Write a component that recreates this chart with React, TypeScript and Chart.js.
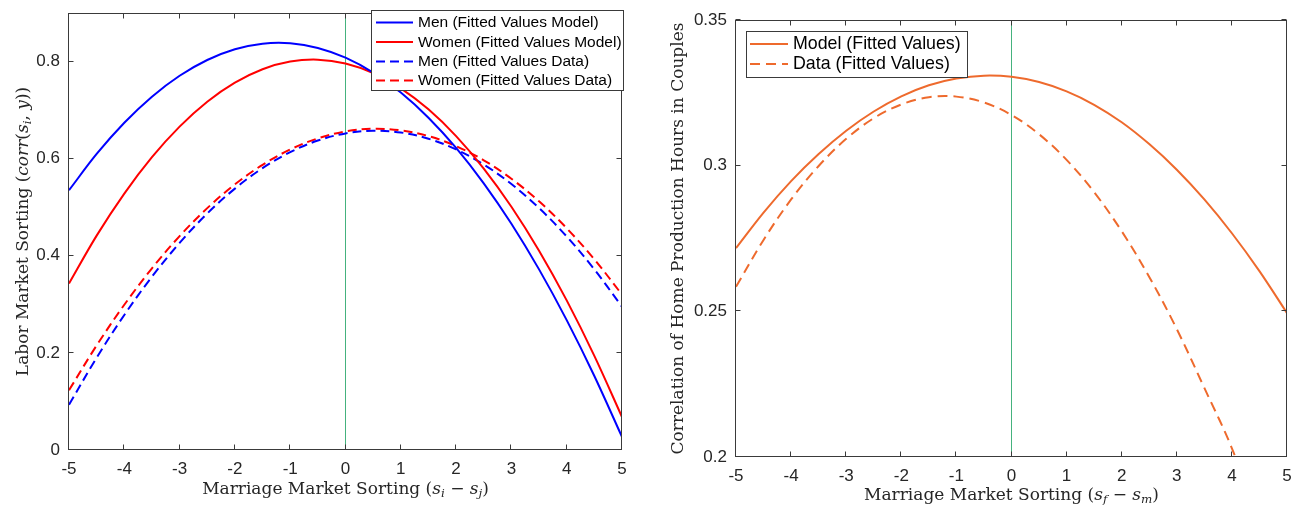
import React, { useEffect, useRef } from 'react';
import Chart from 'chart.js/auto';

// ---------- data ----------
const xValues = [-5, -4.5, -4, -3.5, -3, -2.5, -2, -1.5, -1, -0.5, 0, 0.5, 1, 1.5, 2, 2.5, 3, 3.5, 4, 4.5, 5];

const menModel = [0.535, 0.6097, 0.6739, 0.7276, 0.7707, 0.8032, 0.8253, 0.8368, 0.8377, 0.8281, 0.808, 0.7773, 0.7361, 0.6844, 0.6221, 0.5492, 0.4659, 0.372, 0.2675, 0.1525, 0.027];
const womenModel = [0.343, 0.4415, 0.5281, 0.603, 0.6659, 0.7172, 0.7565, 0.7842, 0.7999, 0.8039, 0.796, 0.7763, 0.7449, 0.7016, 0.6465, 0.5796, 0.5009, 0.4104, 0.3081, 0.1939, 0.068];
const menData = [0.093, 0.1901, 0.2781, 0.3569, 0.4265, 0.487, 0.5383, 0.5805, 0.6135, 0.6373, 0.652, 0.6575, 0.6539, 0.6411, 0.6191, 0.588, 0.5477, 0.4983, 0.4397, 0.3719, 0.295];
const womenData = [0.123, 0.2154, 0.2991, 0.3741, 0.4405, 0.4981, 0.5471, 0.5873, 0.6189, 0.6418, 0.656, 0.6616, 0.6583, 0.6465, 0.6259, 0.5967, 0.5587, 0.5121, 0.4567, 0.3928, 0.32];

const homeModel = [0.2717, 0.2839, 0.2947, 0.304, 0.312, 0.3186, 0.3238, 0.3276, 0.3299, 0.3309, 0.3305, 0.3287, 0.3255, 0.3209, 0.3149, 0.3074, 0.2986, 0.2884, 0.2768, 0.2638, 0.2494];
const homeData = [0.2584, 0.2745, 0.2884, 0.2999, 0.3092, 0.3163, 0.321, 0.3235, 0.3237, 0.3217, 0.3174, 0.3108, 0.302, 0.2909, 0.2775, 0.2618, 0.2439, 0.2237, 0.203, 0.1765, 0.1495];

const xTicks = [-5, -4, -3, -2, -1, 0, 1, 2, 3, 4, 5];
const leftYTicks = [0, 0.2, 0.4, 0.6, 0.8];
const rightYTicks = [0.2, 0.25, 0.3, 0.35];

const leftLegendLabels = [
  'Men (Fitted Values Model)',
  'Women (Fitted Values Model)',
  'Men (Fitted Values Data)',
  'Women (Fitted Values Data)',
];
const rightLegendLabels = ['Model (Fitted Values)', 'Data (Fitted Values)'];

// ---------- styling ----------
const AXIS_COLOR = '#3a3a3a';
const TEXT_COLOR = '#262626';
const ZERO_COLOR = '#45b27e';
const BLUE = '#0000ff';
const RED = '#ff0000';
const ORANGE = '#ee6a2d';
const TICK_FONT = { family: '"Liberation Sans", Arial, sans-serif', size: 17 };
const SERIF = '"DejaVu Serif", serif';

type Seg = { t: string; it?: boolean; sub?: boolean };

function drawRich(ctx: CanvasRenderingContext2D, segs: Seg[], x: number, y: number, size: number, rotate: boolean) {
  ctx.save();
  ctx.translate(x, y);
  if (rotate) ctx.rotate(-Math.PI / 2);
  const fontFor = (s: Seg) => `${s.it ? 'italic ' : ''}${s.sub ? size * 0.7 : size}px ${SERIF}`;
  const widths = segs.map((s) => {
    ctx.font = fontFor(s);
    return ctx.measureText(s.t).width;
  });
  const total = widths.reduce((a, b) => a + b, 0);
  let cx = -total / 2;
  ctx.textAlign = 'left';
  ctx.textBaseline = 'alphabetic';
  ctx.fillStyle = TEXT_COLOR;
  segs.forEach((s, i) => {
    ctx.font = fontFor(s);
    ctx.fillText(s.t, cx, s.sub ? size * 0.2 : 0);
    cx += widths[i];
  });
  ctx.restore();
}

type LegendCfg = {
  box: [number, number, number, number];
  rowY: number[];
  lineX: [number, number];
  textX: number;
  fontSize: number;
};

type PanelCfg = {
  xTitle: Seg[];
  yTitle: Seg[];
  xTitleBaseline: number;
  yTitleBaseline: number;
  legend: LegendCfg;
  yTicks: number[];
};

function makePlugin(cfg: PanelCfg) {
  return {
    id: 'panelDecor',
    afterDatasetsDraw(chart: any) {
      const { ctx, chartArea: a, scales } = chart;
      ctx.save();
      // frame
      ctx.strokeStyle = AXIS_COLOR;
      ctx.lineWidth = 1;
      ctx.setLineDash([]);
      const L = Math.round(a.left) - 0.5;
      const R = Math.round(a.right) - 0.5;
      const T = Math.round(a.top) + 0.5;
      const B = Math.round(a.bottom) - 0.5;
      ctx.strokeRect(L, T, R - L, B - T);
      const tl = 5;
      ctx.beginPath();
      xTicks.forEach((v) => {
        const px = Math.round(scales.x.getPixelForValue(v)) - 0.5;
        ctx.moveTo(px, B);
        ctx.lineTo(px, B - tl);
        ctx.moveTo(px, T);
        ctx.lineTo(px, T + tl);
      });
      cfg.yTicks.forEach((v) => {
        const py = Math.round(scales.y.getPixelForValue(v)) - 0.5;
        ctx.moveTo(L, py);
        ctx.lineTo(L + tl, py);
        ctx.moveTo(R, py);
        ctx.lineTo(R - tl, py);
      });
      ctx.stroke();

      // legend
      const lg = cfg.legend;
      const [bx, by, bw, bh] = lg.box;
      ctx.fillStyle = '#ffffff';
      ctx.fillRect(bx, by, bw, bh);
      ctx.strokeStyle = AXIS_COLOR;
      ctx.lineWidth = 1;
      ctx.strokeRect(bx + 0.5, by + 0.5, bw - 1, bh - 1);
      const ds = chart.data.datasets.filter((d: any) => d.inLegend);
      ds.forEach((d: any, i: number) => {
        const yy = lg.rowY[i];
        ctx.strokeStyle = d.borderColor;
        ctx.lineWidth = d.borderWidth;
        ctx.setLineDash(d.legendDash || []);
        ctx.beginPath();
        ctx.moveTo(lg.lineX[0], yy);
        ctx.lineTo(lg.lineX[1], yy);
        ctx.stroke();
        ctx.setLineDash([]);
        ctx.fillStyle = '#000000';
        ctx.font = `${lg.fontSize}px "Liberation Sans", Arial, sans-serif`;
        ctx.textAlign = 'left';
        ctx.textBaseline = 'middle';
        ctx.fillText(d.label, lg.textX, yy + 0.5);
      });
      ctx.restore();

      // titles
      drawRich(ctx, cfg.xTitle, (a.left + a.right) / 2, cfg.xTitleBaseline, 17, false);
      drawRich(ctx, cfg.yTitle, cfg.yTitleBaseline, (a.top + a.bottom) / 2, 17, true);
    },
  };
}

function series(label: string, values: number[], color: string, dashed: boolean, dash: number[]) {
  return {
    label,
    data: xValues.map((x, i) => ({ x, y: values[i] })),
    borderColor: color,
    borderWidth: 2,
    borderDash: dashed ? dash : [],
    legendDash: dashed ? dash : [],
    tension: 0.35,
    pointRadius: 0,
    fill: false,
    inLegend: true,
  };
}

function zeroLine(ymin: number, ymax: number) {
  return {
    label: 'zero',
    data: [
      { x: 0, y: ymin },
      { x: 0, y: ymax },
    ],
    borderColor: ZERO_COLOR,
    borderWidth: 1,
    pointRadius: 0,
    tension: 0,
    fill: false,
    inLegend: false,
  };
}

function zeroPad(s: any) {
  s.paddingTop = 0;
  s.paddingBottom = 0;
  s.paddingLeft = 0;
  s.paddingRight = 0;
}

function buildOptions(ymin: number, ymax: number, yTicks: number[], pad: any, yWidth: number, xHeight: number) {
  return {
    responsive: false,
    animation: false,
    layout: { padding: pad },
    plugins: { legend: { display: false }, tooltip: { enabled: false }, title: { display: false } },
    elements: { point: { radius: 0 } },
    scales: {
      x: {
        type: 'linear',
        min: -5,
        max: 5,
        afterBuildTicks: (s: any) => {
          s.ticks = xTicks.map((v) => ({ value: v }));
        },
        afterFit: (s: any) => {
          s.height = xHeight;
          zeroPad(s);
        },
        grid: { display: false, drawTicks: false },
        border: { display: false },
        ticks: {
          font: TICK_FONT,
          color: TEXT_COLOR,
          padding: 9,
          maxRotation: 0,
          autoSkip: false,
          callback: (v: any) => String(v),
        },
      },
      y: {
        type: 'linear',
        min: ymin,
        max: ymax,
        afterBuildTicks: (s: any) => {
          s.ticks = yTicks.map((v) => ({ value: v }));
        },
        afterFit: (s: any) => {
          s.width = yWidth;
          zeroPad(s);
        },
        grid: { display: false, drawTicks: false },
        border: { display: false },
        ticks: {
          font: TICK_FONT,
          color: TEXT_COLOR,
          padding: 9,
          autoSkip: false,
          callback: (v: any) => String(v),
        },
      },
    },
  };
}

export default function App() {
  const leftRef = useRef<HTMLCanvasElement>(null);
  const rightRef = useRef<HTMLCanvasElement>(null);

  useEffect(() => {
    const leftDash = [9, 5];
    const rightDash = [10, 6];
    const leftChart = new Chart(leftRef.current as HTMLCanvasElement, {
      type: 'line',
      data: {
        datasets: [
          series(leftLegendLabels[0], menModel, BLUE, false, leftDash),
          series(leftLegendLabels[1], womenModel, RED, false, leftDash),
          series(leftLegendLabels[2], menData, BLUE, true, leftDash),
          series(leftLegendLabels[3], womenData, RED, true, leftDash),
          zeroLine(0, 0.9),
        ] as any,
      },
      options: buildOptions(0, 0.9, leftYTicks, { left: 0, right: 24, top: 13, bottom: 0 }, 69, 56) as any,
      plugins: [
        makePlugin({
          xTitle: [
            { t: 'Marriage Market Sorting (' },
            { t: 's', it: true },
            { t: 'i', it: true, sub: true },
            { t: ' − ' },
            { t: 's', it: true },
            { t: 'j', it: true, sub: true },
            { t: ')' },
          ],
          yTitle: [
            { t: 'Labor Market Sorting (' },
            { t: 'corr', it: true },
            { t: '(' },
            { t: 's', it: true },
            { t: 'i', it: true, sub: true },
            { t: ', ' },
            { t: 'y', it: true },
            { t: '))' },
          ],
          xTitleBaseline: 494,
          yTitleBaseline: 28,
          yTicks: leftYTicks,
          legend: {
            box: [371, 10, 253, 81],
            rowY: [22.5, 42, 61.5, 80.5],
            lineX: [376, 413],
            textX: 418,
            fontSize: 15.5,
          },
        }) as any,
      ],
    });

    const rightChart = new Chart(rightRef.current as HTMLCanvasElement, {
      type: 'line',
      data: {
        datasets: [
          series(rightLegendLabels[0], homeModel, ORANGE, false, rightDash),
          series(rightLegendLabels[1], homeData, ORANGE, true, rightDash),
          zeroLine(0.2, 0.35),
        ] as any,
      },
      options: buildOptions(0.2, 0.35, rightYTicks, { left: 0, right: 6, top: 20, bottom: 0 }, 90, 49) as any,
      plugins: [
        makePlugin({
          xTitle: [
            { t: 'Marriage Market Sorting (' },
            { t: 's', it: true },
            { t: 'f', it: true, sub: true },
            { t: ' − ' },
            { t: 's', it: true },
            { t: 'm', it: true, sub: true },
            { t: ')' },
          ],
          yTitle: [{ t: 'Correlation of Home Production Hours in Couples' }],
          xTitleBaseline: 500,
          yTitleBaseline: 37,
          yTicks: rightYTicks,
          legend: {
            box: [100, 31, 222, 47],
            rowY: [44, 64],
            lineX: [104, 142],
            textX: 147,
            fontSize: 17.8,
          },
        }) as any,
      ],
    });

    return () => {
      leftChart.destroy();
      rightChart.destroy();
    };
  }, []);

  return (
    <div style={{ position: 'fixed', left: 0, top: 0, width: 1293, height: 506, background: '#ffffff' }}>
      <canvas ref={leftRef} width={646} height={506} style={{ position: 'absolute', left: 0, top: 0, width: 646, height: 506 }} />
      <canvas ref={rightRef} width={647} height={506} style={{ position: 'absolute', left: 646, top: 0, width: 647, height: 506 }} />
    </div>
  );
}
